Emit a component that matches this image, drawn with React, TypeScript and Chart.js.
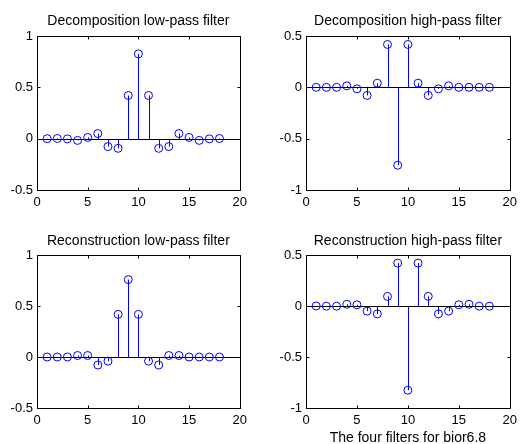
import React, { useEffect, useRef } from "react";
import { Chart, registerables } from "chart.js";

Chart.register(...registerables);

// ---- data (bior6.8 filters) ----
const sampleIndex = [1, 2, 3, 4, 5, 6, 7, 8, 9, 10, 11, 12, 13, 14, 15, 16, 17, 18];
const decLowPass = [0, 0.0019, -0.0019, -0.017, 0.0119, 0.0497, -0.0773, -0.0941, 0.4208, 0.8259, 0.4208, -0.0941, -0.0773, 0.0497, 0.0119, -0.017, -0.0019, 0.0019];
const decHighPass = [0, 0, 0, 0.0144, -0.0145, -0.0787, 0.0404, 0.4178, -0.7589, 0.4178, 0.0404, -0.0787, -0.0145, 0.0144, 0, 0, 0, 0];
const recLowPass = [0, 0, 0, 0.0144, 0.0145, -0.0787, -0.0404, 0.4178, 0.7589, 0.4178, -0.0404, -0.0787, 0.0145, 0.0144, 0, 0, 0, 0];
const recHighPass = [0, -0.0019, -0.0019, 0.017, 0.0119, -0.0497, -0.0773, 0.0941, 0.4208, -0.8259, 0.4208, 0.0941, -0.0773, -0.0497, 0.0119, 0.017, -0.0019, -0.0019];

const xTickValues = [0, 5, 10, 15, 20];
const yTicksLow = [-0.5, 0, 0.5, 1];
const yTicksHigh = [-1, -0.5, 0, 0.5];

const titleDecLow = "Decomposition low-pass filter";
const titleDecHigh = "Decomposition high-pass filter";
const titleRecLow = "Reconstruction low-pass filter";
const titleRecHigh = "Reconstruction high-pass filter";
const footerLabel = "The four filters for bior6.8";

const FONT_FAMILY = '"Liberation Sans", Arial, Helvetica, sans-serif';
const FONT_SIZE = 13;
const TITLE_SIZE = 14;
const STEM_COLOR = "#0000ff";

type PlotBox = { left: number; top: number; width: number; height: number };

const Y_AXIS_W = 37;
const PAD_TOP = 36;
const PAD_RIGHT = 10;
const X_AXIS_H = 30;
const PAD_BOTTOM = 12;

function StemPlot(props: {
  title: string;
  values: number[];
  yTicks: number[];
  box: PlotBox;
  titleOffset: number;
  xlabel?: string;
}) {
  const ref = useRef<HTMLCanvasElement | null>(null);
  const { box } = props;
  const cw = Y_AXIS_W + box.width + PAD_RIGHT;
  const ch = PAD_TOP + box.height + X_AXIS_H + PAD_BOTTOM;

  useEffect(() => {
    const canvas = ref.current;
    if (!canvas) return;
    const yMin = props.yTicks[0];
    const yMax = props.yTicks[props.yTicks.length - 1];
    const font = { family: FONT_FAMILY, size: FONT_SIZE };

    const decor = {
      id: "stemDecor",
      beforeDatasetsDraw(chart: any) {
        const ctx = chart.ctx;
        const xs = chart.scales.x;
        const ys = chart.scales.y;
        const area = chart.chartArea;
        const y0 = Math.round(ys.getPixelForValue(0)) + 0.5;
        ctx.save();
        // stems
        ctx.strokeStyle = STEM_COLOR;
        ctx.lineWidth = 1;
        props.values.forEach((v, i) => {
          const px = Math.round(xs.getPixelForValue(sampleIndex[i])) + 0.5;
          const py = ys.getPixelForValue(v);
          ctx.beginPath();
          ctx.moveTo(px, y0);
          ctx.lineTo(px, py);
          ctx.stroke();
        });
        // baseline
        ctx.strokeStyle = "#000000";
        ctx.beginPath();
        ctx.moveTo(area.left, y0);
        ctx.lineTo(area.right, y0);
        ctx.stroke();
        ctx.restore();
      },
      afterDraw(chart: any) {
        const ctx = chart.ctx;
        const xs = chart.scales.x;
        const ys = chart.scales.y;
        const a = chart.chartArea;
        const L = Math.round(a.left) + 0.5;
        const R = Math.round(a.right) + 0.5;
        const T = Math.round(a.top) + 0.5;
        const B = Math.round(a.bottom) + 0.5;
        const tl = 3;
        ctx.save();
        ctx.strokeStyle = "#000000";
        ctx.lineWidth = 1;
        ctx.beginPath();
        ctx.rect(L, T, R - L, B - T);
        ctx.stroke();
        ctx.beginPath();
        xTickValues.forEach((v) => {
          const px = Math.round(xs.getPixelForValue(v)) + 0.5;
          ctx.moveTo(px, B);
          ctx.lineTo(px, B - tl);
          ctx.moveTo(px, T);
          ctx.lineTo(px, T + tl);
        });
        props.yTicks.forEach((v) => {
          const py = Math.round(ys.getPixelForValue(v)) + 0.5;
          ctx.moveTo(L, py);
          ctx.lineTo(L + tl, py);
          ctx.moveTo(R, py);
          ctx.lineTo(R - tl, py);
        });
        ctx.stroke();
        // title
        ctx.fillStyle = "#000000";
        ctx.font = `${TITLE_SIZE}px ${FONT_FAMILY}`;
        ctx.textAlign = "center";
        ctx.textBaseline = "alphabetic";
        const cx = (a.left + a.right) / 2;
        ctx.fillText(props.title, cx, a.top - props.titleOffset);
        if (props.xlabel) {
          ctx.fillText(props.xlabel, cx, a.bottom + 34);
        }
        ctx.restore();
      },
    };

    const chart = new Chart(canvas, {
      type: "scatter",
      data: {
        datasets: [
          {
            data: sampleIndex.map((x, i) => ({ x, y: props.values[i] })),
            pointStyle: "circle",
            pointRadius: 4,
            pointHoverRadius: 4,
            pointBorderWidth: 1,
            borderColor: STEM_COLOR,
            backgroundColor: "rgba(0,0,0,0)",
            pointBackgroundColor: "rgba(0,0,0,0)",
            pointBorderColor: STEM_COLOR,
            showLine: false,
          },
        ],
      },
      options: {
        animation: false,
        responsive: false,
        maintainAspectRatio: false,
        devicePixelRatio: 1,
        events: [],
        layout: { padding: { top: PAD_TOP, right: PAD_RIGHT, bottom: PAD_BOTTOM, left: 0 } },
        plugins: {
          legend: { display: false },
          title: { display: false },
          tooltip: { enabled: false },
        },
        scales: {
          x: {
            type: "linear",
            min: 0,
            max: 20,
            afterBuildTicks: (s: any) => {
              s.ticks = xTickValues.map((value) => ({ value }));
            },
            afterFit: (s: any) => {
              s.height = X_AXIS_H;
            },
            ticks: {
              color: "#000000",
              font,
              padding: 5,
              maxRotation: 0,
              autoSkip: false,
              callback: (v: any) => String(v),
            },
            grid: { display: false, drawTicks: false },
            border: { display: false },
          },
          y: {
            type: "linear",
            min: yMin,
            max: yMax,
            afterBuildTicks: (s: any) => {
              s.ticks = props.yTicks.map((value) => ({ value }));
            },
            afterFit: (s: any) => {
              s.width = Y_AXIS_W;
            },
            ticks: {
              color: "#000000",
              font,
              padding: 4,
              autoSkip: false,
              callback: (v: any) => String(v),
            },
            grid: { display: false, drawTicks: false },
            border: { display: false },
          },
        },
      },
      plugins: [decor],
    } as any);
    return () => chart.destroy();
  }, []);

  return (
    <canvas
      ref={ref}
      width={cw}
      height={ch}
      style={{
        position: "absolute",
        left: box.left - Y_AXIS_W,
        top: box.top - PAD_TOP,
        width: cw,
        height: ch,
      }}
    />
  );
}

export default function App() {
  return (
    <div style={{ position: "absolute", left: 0, top: 0, width: 520, height: 444, background: "#ffffff", overflow: "hidden" }}>
      <StemPlot title={titleDecLow} values={decLowPass} yTicks={yTicksLow} box={{ left: 37, top: 36, width: 205, height: 154 }} titleOffset={11} />
      <StemPlot title={titleDecHigh} values={decHighPass} yTicks={yTicksHigh} box={{ left: 306, top: 36, width: 206, height: 154 }} titleOffset={11} />
      <StemPlot title={titleRecLow} values={recLowPass} yTicks={yTicksLow} box={{ left: 37, top: 255, width: 205, height: 153 }} titleOffset={10.5} />
      <StemPlot title={titleRecHigh} values={recHighPass} yTicks={yTicksHigh} box={{ left: 306, top: 255, width: 206, height: 153 }} titleOffset={10.5} xlabel={footerLabel} />
    </div>
  );
}
